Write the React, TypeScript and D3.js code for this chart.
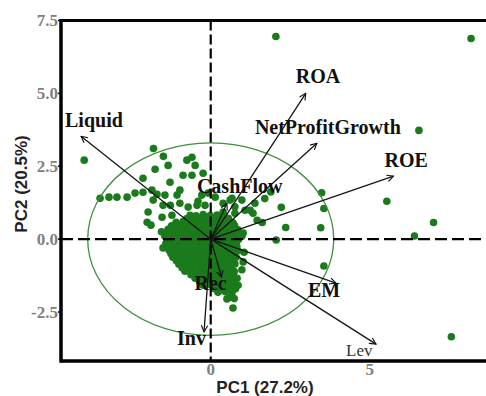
import React from 'react';
import * as d3 from 'd3';

// PCA biplot: scores (firms) + loadings (variables)
const W = 486;
const H = 396;

const xTicks = [0, 5];
const yTicks = [-2.5, 0, 2.5, 5, 7.5];
const xTitle = 'PC1 (27.2%)';
const yTitle = 'PC2 (20.5%)';

const variables = ['Liquid', 'ROA', 'NetProfitGrowth', 'ROE', 'CashFlow', 'Rec', 'Inv', 'EM', 'Lev'];
const loadPC1 = [-4.08, 2.99, 3.34, 5.75, 0.51, 0.34, -0.21, 3.94, 5.2];
const loadPC2 = [3.53, 5.0, 3.29, 2.16, 1.23, -1.3, -3.18, -1.51, -3.6];

// confidence ellipse radii (PC1, PC2)
const ellipseR = [3.87, 3.3];

const outlierScores: [number, number][] = [
  [2.05, 6.95], [8.19, 6.88], [6.55, 3.73], [5.54, 1.3], [7.01, 0.57], [6.41, 0.11],
  [7.57, -3.35], [-3.98, 2.71],
];

const spreadScores: [number, number][] = [
  [-1.8, 3.11], [-1.49, 2.84], [-1.75, 2.4], [-1.34, 2.53], [-2.13, 2.09], [-1.28, 1.95],
  [-3.48, 1.4], [-3.2, 1.44], [-2.95, 1.44], [-2.63, 1.44], [-2.38, 1.58], [-2.13, 1.61],
  [-1.85, 1.68], [-1.69, 1.54], [-0.75, 2.71], [-0.59, 2.81], [-0.49, 2.53], [-0.87, 2.19],
  [-0.59, 2.19], [-0.24, 2.26], [-0.97, 1.68], [-1.06, 1.51], [-0.08, 1.58], [0.14, 1.44],
  [-1.81, 1.34], [-1.5, 1.16], [-1.53, 0.75], [-2.0, 0.58], [-1.88, 0.48], [-1.22, 0.82],
  [-0.97, 1.23], [-0.71, 1.1], [-0.43, 1.16], [-0.4, 1.3], [-0.18, 1.16], [-1.27, 1.16],
  [0.39, 1.23], [0.67, 1.4], [0.98, 1.34], [1.39, 1.23], [1.24, 0.99], [0.76, 0.89],
  [1.33, 0.89], [1.46, 0.65], [1.7, 1.39], [1.89, 1.62], [2.22, 1.09], [3.49, 1.59],
  [3.56, 1.05], [1.62, 0.57], [2.36, 0.4], [3.46, 0.39], [2.06, -0.03], [1.02, 0.21],
  [1.02, -0.78], [3.56, -0.92], [0.92, 0.14], [0.51, -0.1], [0.7, -0.31], [-1.97, 0.93],
  [-1.44, 1.51], [-0.28, 1.51], [0.39, 0.93], [1.08, 0.99], [0.61, 1.34], [0.76, 1.11],
  [0.7, -2.36], [0.61, -1.99], [1.05, -0.45], [0.98, -1.05], [-1.55, 0.25], [-1.5, -0.3],
];

const coreScores: [number, number][] = [
  [-0.65, 0.82], [-0.46, 0.8], [-0.24, 0.84], [-0.02, 0.81], [0.2, 0.83], [0.42, 0.8],
  [-1.09, 0.58], [-0.87, 0.6], [-0.65, 0.57], [-0.43, 0.59], [-0.21, 0.56], [0.01, 0.6], [0.23, 0.57], [0.48, 0.59], [0.7, 0.56],
  [-1.34, 0.34], [-1.12, 0.36], [-0.9, 0.33], [-0.68, 0.35], [-0.46, 0.32], [-0.24, 0.36], [-0.02, 0.33], [0.2, 0.35], [0.42, 0.33], [0.64, 0.36], [0.86, 0.32],
  [-1.44, 0.1], [-1.22, 0.12], [-1.0, 0.09], [-0.78, 0.11], [-0.56, 0.08], [-0.34, 0.12], [-0.12, 0.1], [0.1, 0.09], [0.32, 0.11], [0.54, 0.08], [0.76, 0.12], [0.98, 0.1],
  [-1.41, -0.14], [-1.19, -0.12], [-0.97, -0.15], [-0.75, -0.13], [-0.53, -0.16], [-0.31, -0.12], [-0.09, -0.14], [0.14, -0.15], [0.36, -0.12], [0.58, -0.14], [0.8, -0.13],
  [-1.31, -0.38], [-1.09, -0.36], [-0.87, -0.39], [-0.65, -0.37], [-0.43, -0.4], [-0.21, -0.36], [0.01, -0.38], [0.23, -0.39], [0.45, -0.36], [0.67, -0.38], [0.86, -0.4],
  [-1.19, -0.62], [-0.97, -0.6], [-0.75, -0.63], [-0.53, -0.61], [-0.31, -0.64], [-0.09, -0.6], [0.14, -0.62], [0.36, -0.63], [0.58, -0.6], [0.8, -0.62],
  [-1.0, -0.86], [-0.78, -0.84], [-0.56, -0.87], [-0.34, -0.85], [-0.12, -0.88], [0.1, -0.84], [0.32, -0.86], [0.54, -0.87], [0.76, -0.85],
  [-0.81, -1.1], [-0.59, -1.08], [-0.37, -1.11], [-0.15, -1.09], [0.07, -1.12], [0.29, -1.08], [0.51, -1.1], [0.74, -1.11],
  [-0.49, -1.34], [-0.27, -1.32], [-0.05, -1.35], [0.17, -1.33], [0.39, -1.36], [0.61, -1.32], [0.83, -1.34],
  [-0.24, -1.58], [-0.02, -1.56], [0.2, -1.59], [0.42, -1.57], [0.64, -1.6], [0.86, -1.58],
  [0.23, -1.82], [0.45, -1.8], [0.67, -1.83],
  [0.51, -2.05], [0.74, -2.04],
  // in-between firms
  [-0.76, 0.7], [-0.54, 0.71], [-0.32, 0.69], [-0.1, 0.72], [0.12, 0.7], [0.34, 0.68], [0.56, 0.71],
  [-1.23, 0.46], [-1.01, 0.47], [-0.79, 0.45], [-0.57, 0.48], [-0.35, 0.46], [-0.13, 0.44], [0.09, 0.47], [0.31, 0.46], [0.53, 0.45], [0.75, 0.47],
  [-1.39, 0.22], [-1.17, 0.21], [-0.95, 0.23], [-0.73, 0.22], [-0.51, 0.2], [-0.29, 0.23], [-0.07, 0.22], [0.15, 0.21], [0.37, 0.24], [0.59, 0.22], [0.81, 0.2],
  [-1.33, -0.02], [-1.11, 0.0], [-0.89, -0.03], [-0.67, -0.01], [-0.45, -0.02], [-0.23, 0.0], [-0.01, -0.03], [0.21, -0.02], [0.43, 0.0], [0.65, -0.02], [0.87, -0.01],
  [-1.36, -0.26], [-1.14, -0.25], [-0.92, -0.27], [-0.7, -0.26], [-0.48, -0.24], [-0.26, -0.27], [-0.04, -0.26], [0.18, -0.25], [0.4, -0.27], [0.62, -0.26], [0.82, -0.24],
  [-1.25, -0.5], [-1.03, -0.49], [-0.81, -0.51], [-0.59, -0.5], [-0.37, -0.52], [-0.15, -0.49], [0.07, -0.5], [0.29, -0.51], [0.51, -0.49], [0.73, -0.5],
  [-1.08, -0.74], [-0.86, -0.73], [-0.64, -0.75], [-0.42, -0.74], [-0.2, -0.76], [0.02, -0.73], [0.24, -0.74], [0.46, -0.75], [0.68, -0.73],
  [-0.9, -0.98], [-0.68, -0.97], [-0.46, -0.99], [-0.24, -0.98], [-0.02, -1.0], [0.2, -0.97], [0.42, -0.98], [0.64, -0.99],
  [-0.62, -1.22], [-0.4, -1.21], [-0.18, -1.23], [0.04, -1.22], [0.26, -1.24], [0.48, -1.21], [0.7, -1.22],
  [-0.35, -1.46], [-0.13, -1.45], [0.09, -1.47], [0.31, -1.46], [0.53, -1.48], [0.75, -1.45],
  [0.12, -1.7], [0.34, -1.69], [0.56, -1.71], [0.78, -1.7],
];

// label placement relative to arrow tip (px)
const labelOffset: Record<string, [number, number]> = {
  Liquid: [-16, -9],
  ROA: [-10, -10],
  NetProfitGrowth: [-62, -9],
  ROE: [-9, -9],
  CashFlow: [-30, -10],
  Rec: [-27, 13],
  Inv: [-27, 13],
  EM: [-28, 14],
  Lev: [-30, 12],
};

const left = 61;
const top = 20.5;
const bottom = 361;

const x = d3.scaleLinear().domain([-4.71, 8.66]).range([left, 486]);
const y = d3.scaleLinear().domain([-4.18, 7.5]).range([bottom, top]);

const serif = '"Liberation Serif", "Times New Roman", serif';
const sans = '"Liberation Sans", Arial, sans-serif';
const dotColor = '#1b7a1b';

export default function App() {
  const x0 = x(0);
  const y0 = y(0);
  const allScores = [...coreScores, ...spreadScores, ...outlierScores];

  return (
    <svg width={W} height={H} style={{ position: 'absolute', left: 0, top: 0, background: '#fff' }}>
      <defs>
        <marker id="head" viewBox="0 0 10 10" refX="9" refY="5" markerWidth="8" markerHeight="8"
          markerUnits="userSpaceOnUse" orient="auto">
          <path d="M1,1 L9,5 L1,9" fill="none" stroke="#111" strokeWidth="1.4" />
        </marker>
      </defs>

      {allScores.map((d, i) => (
        <circle key={i} cx={x(d[0])} cy={y(d[1])} r={3.8} fill={dotColor} />
      ))}

      <ellipse cx={x0} cy={y0} rx={x(ellipseR[0]) - x0} ry={y0 - y(ellipseR[1])}
        fill="none" stroke="#3f8f3f" strokeWidth={1.3} />

      {/* zero lines */}
      <line x1={left} x2={490} y1={y0} y2={y0} stroke="#000" strokeWidth={2.4} strokeDasharray="12,5" />
      <line x1={x0} x2={x0} y1={top} y2={bottom} stroke="#000" strokeWidth={2.2} strokeDasharray="10,4" />

      {variables.map((v, i) => (
        <line key={v} x1={x0} y1={y0} x2={x(loadPC1[i])} y2={y(loadPC2[i])}
          stroke="#151515" strokeWidth={1.3} markerEnd="url(#head)" />
      ))}

      {variables.map((v, i) => {
        const off = labelOffset[v];
        const isLev = v === 'Lev';
        return (
          <text key={v} x={x(loadPC1[i]) + off[0]} y={y(loadPC2[i]) + off[1]}
            fontFamily={serif} fontWeight={isLev ? 'normal' : 'bold'} fontSize={isLev ? 17 : 20}
            fill={isLev ? '#333' : '#111'}>
            {v}
          </text>
        );
      })}

      {/* frame */}
      <line x1={left} x2={490} y1={top} y2={top} stroke="#000" strokeWidth={3.2} />
      <line x1={left} x2={490} y1={bottom} y2={bottom} stroke="#000" strokeWidth={3.5} />
      <line x1={left} x2={left} y1={top - 1.5} y2={bottom + 1.7} stroke="#000" strokeWidth={3.5} />

      {yTicks.map((t) => (
        <g key={t}>
          <line x1={left - 3} x2={left} y1={y(t)} y2={y(t)} stroke="#000" strokeWidth={1.5} />
          <text x={left - 3} y={y(t)} dy="0.35em" textAnchor="end" fontFamily={serif}
            fontWeight="bold" fontSize={17} fill="#808080">
            {d3.format('.1f')(t).replace('−', '-')}
          </text>
        </g>
      ))}
      {xTicks.map((t) => (
        <text key={t} x={x(t)} y={bottom + 14} textAnchor="middle" fontFamily={serif}
          fontWeight="bold" fontSize={17} fill="#808080">
          {t}
        </text>
      ))}

      <text x={265} y={393} textAnchor="middle" fontFamily={sans} fontWeight="bold" fontSize={17} fill="#222">
        {xTitle}
      </text>
      <text transform="translate(27,184) rotate(-90)" textAnchor="middle" fontFamily={sans}
        fontWeight="bold" fontSize={17} fill="#222">
        {yTitle}
      </text>
    </svg>
  );
}
